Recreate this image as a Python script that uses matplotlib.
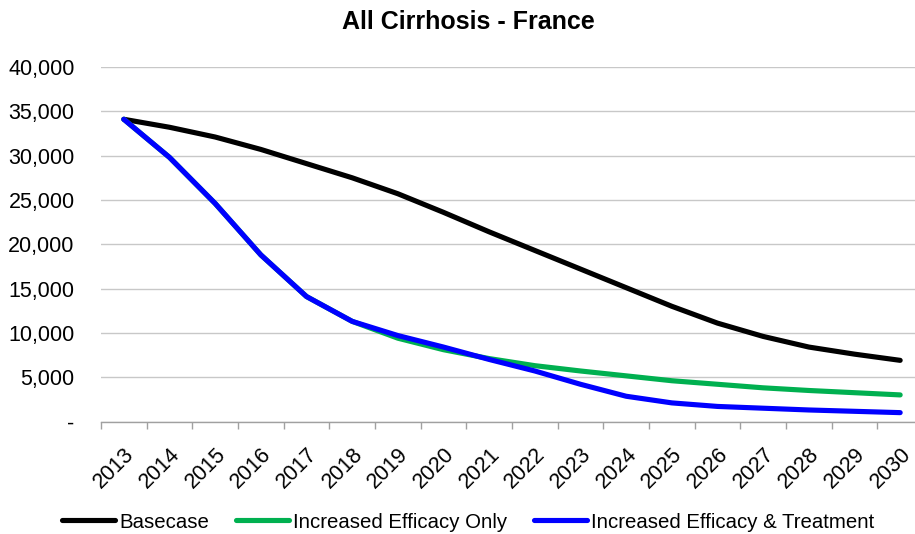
import matplotlib
matplotlib.use("Agg")
import matplotlib.pyplot as plt
from matplotlib.ticker import FuncFormatter, FixedLocator

plt.rcParams['font.family'] = ['Liberation Sans', 'DejaVu Sans']

years = [str(y) for y in range(2013, 2031)]
basecase = [34100, 33200, 32100, 30700, 29100, 27500, 25700, 23600, 21400,
            19300, 17200, 15100, 13000, 11100, 9600, 8400, 7600, 6900]
efficacy_only = [34100, 29800, 24600, 18800, 14100, 11300, 9400, 8100, 7100,
                 6300, 5700, 5150, 4600, 4200, 3800, 3500, 3250, 3000]
efficacy_treatment = [34100, 29800, 24600, 18800, 14100, 11300, 9700, 8400, 7000,
                      5700, 4200, 2850, 2100, 1700, 1500, 1300, 1150, 1000]
series_names = ["Basecase", "Increased Efficacy Only", "Increased Efficacy & Treatment"]
colors = ["#000000", "#00B050", "#0000FF"]
y_ticks = [0, 5000, 10000, 15000, 20000, 25000, 30000, 35000, 40000]

fig = plt.figure(figsize=(9.15, 5.34), dpi=100)
ax = fig.add_axes([101/915, 112.5/534, 822/915, 354.5/534])

x = list(range(len(years)))
for vals, name, c in zip([basecase, efficacy_only, efficacy_treatment], series_names, colors):
    ax.plot(x, vals, color=c, lw=3.7, label=name, solid_capstyle='round',
            solid_joinstyle='round', zorder=3)

ax.set_xlim(-0.5, len(years) - 0.5)
ax.set_ylim(0, 40000)
ax.set_yticks(y_ticks)
ax.yaxis.set_major_formatter(FuncFormatter(lambda v, p: "-" if v == 0 else f"{int(v):,}"))
ax.grid(axis='y', color='#C8C8C8', lw=1.0, zorder=0)
ax.set_axisbelow(True)

ax.set_xticks(x)
ax.set_xticklabels(years, rotation=45, ha='right', rotation_mode='anchor')
ax.xaxis.set_minor_locator(FixedLocator([i - 0.5 for i in range(len(years) + 1)]))
ax.tick_params(axis='x', which='major', length=0, pad=16, labelsize=15.5)
ax.tick_params(axis='x', which='minor', length=5, width=1, color='#A0A0A0', direction='out')
ax.tick_params(axis='y', length=0, pad=19, labelsize=15.5)

for s in ['left', 'right', 'top']:
    ax.spines[s].set_visible(False)
ax.spines['bottom'].set_color('#A0A0A0')
ax.spines['bottom'].set_linewidth(1)

fig.text(468/915, 1 - 22/534, "All Cirrhosis - France", ha='center', va='center',
         fontsize=18, fontweight='bold')

leg = fig.legend(loc='center', bbox_to_anchor=(468/915, 1 - 522/534), ncol=3,
                 frameon=False, fontsize=14.7, handlelength=2.6, handletextpad=0.2,
                 columnspacing=1.3)

fig.savefig("out.png", dpi=100)
